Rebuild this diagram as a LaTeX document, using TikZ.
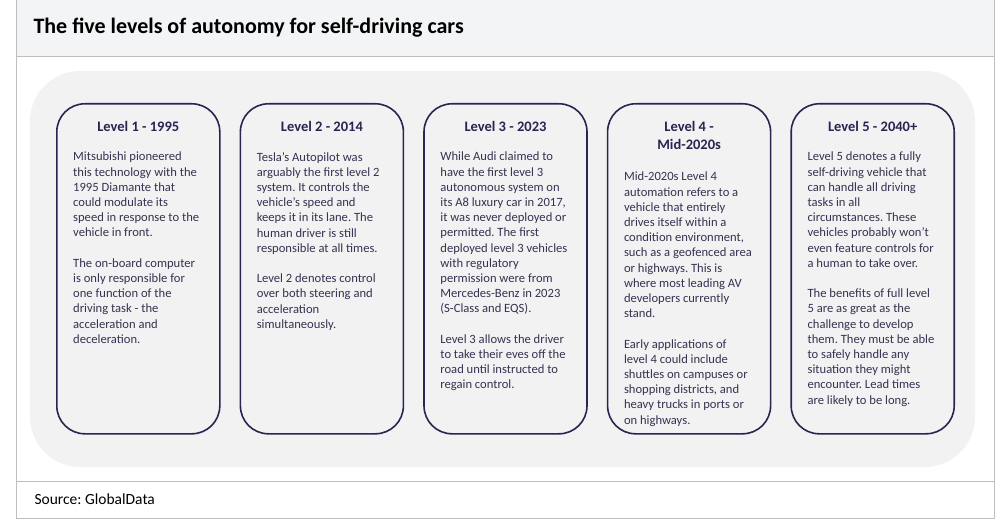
\documentclass[tikz,border=0pt]{standalone}
\usepackage{fontspec}
\setmainfont{Carlito}
\frenchspacing
\usetikzlibrary{positioning}
\definecolor{navy}{HTML}{2B2350}
\definecolor{bodytext}{HTML}{363250}
\definecolor{panelgrey}{HTML}{F2F2F3}
\definecolor{headgrey}{HTML}{F3F4F6}
\definecolor{framegrey}{HTML}{BEBEBE}
\begin{document}
\begin{tikzpicture}[x=1pt,y=1pt,
    card/.style={draw=navy, line width=1.6pt, rounded corners=28pt, fill=panelgrey,
      minimum width=163pt, minimum height=330pt, inner sep=0pt},
    cardhead/.style={font=\bfseries\fontsize{14.5}{18}\selectfont, text=navy,
      align=center, anchor=base, inner sep=0pt},
    cardbody/.style={font=\fontsize{12.6}{15.2}\selectfont, text=bodytext,
      align=left, anchor=north west, inner sep=0pt}]
    \useasboundingbox (0,0) rectangle (1005,523);
    % header and frame
    \fill[headgrey] (16,467) rectangle (994,523);
    \draw[framegrey] (16,523) -- (16,5) -- (994,5) -- (994,523);
    \draw[framegrey] (16,467) -- (994,467);
    \draw[framegrey] (16,42) -- (994,42);
    \node[anchor=west, font=\bfseries\fontsize{22}{26}\selectfont] (title) at (30,495)
      {The five levels of autonomy for self-driving cars};
    \node[anchor=base west, font=\fontsize{15.5}{18}\selectfont] (source) at (31,19)
      {Source: GlobalData};
    % grey panel
    \fill[panelgrey, rounded corners=50pt] (30,56) rectangle (975,452);
    % cards
    \node[card, anchor=north west] (c1) at (56,420) {};
    \foreach \i [remember=\i as \j (initially 1)] in {2,...,5}
      \node[card, right=19pt of c\j] (c\i) {};
    \node[cardhead] (h1) at ([yshift=-29pt]c1.north) {Level 1 - 1995};
    \node[cardhead] (h2) at ([yshift=-29pt]c2.north) {Level 2 - 2014};
    \node[cardhead] (h3) at ([yshift=-29pt]c3.north) {Level 3 - 2023};
    \node[cardhead] (h4) at ([yshift=-47pt]c4.north) {Level 4 -\\Mid-2020s};
    \node[cardhead] (h5) at ([yshift=-29pt]c5.north) {Level 5 - 2040+};
    \node[cardbody] (b1) at ([xshift=17pt,yshift=-49pt]c1.north west)
      {Mitsubishi pioneered\\this technology with the\\1995 Diamante that\\
       could modulate its\\speed in response to the\\vehicle in front.\\[15.2pt]
       The on-board computer\\is only responsible for\\one function of the\\
       driving task - the\\acceleration and\\deceleration.};
    \node[cardbody] (b2) at ([xshift=17pt,yshift=-49pt]c2.north west)
      {Tesla's Autopilot was\\arguably the first level 2\\system. It controls the\\
       vehicle's speed and\\keeps it in its lane. The\\human driver is still\\
       responsible at all times.\\[15.2pt]
       Level 2 denotes control\\over both steering and\\acceleration\\simultaneously.};
    \node[cardbody] (b3) at ([xshift=17pt,yshift=-49pt]c3.north west)
      {While Audi claimed to\\have the first level 3\\autonomous system on\\
       its A8 luxury car in 2017,\\it was never deployed or\\permitted. The first\\
       deployed level 3 vehicles\\with regulatory\\permission were from\\
       Mercedes-Benz in 2023\\(S-Class and EQS).\\[15.2pt]
       Level 3 allows the driver\\to take their eves off the\\road until instructed to\\
       regain control.};
    \node[cardbody] (b4) at ([xshift=17pt,yshift=-69pt]c4.north west)
      {Mid-2020s Level 4\\automation refers to a\\vehicle that entirely\\
       drives itself within a\\condition environment,\\such as a geofenced area\\
       or highways. This is\\where most leading AV\\developers currently\\stand.\\[15.2pt]
       Early applications of\\level 4 could include\\shuttles on campuses or\\
       shopping districts, and\\heavy trucks in ports or\\on highways.};
    \node[cardbody] (b5) at ([xshift=17pt,yshift=-49pt]c5.north west)
      {Level 5 denotes a fully\\self-driving vehicle that\\can handle all driving\\
       tasks in all\\circumstances. These\\vehicles probably won't\\
       even feature controls for\\a human to take over.\\[15.2pt]
       The benefits of full level\\5 are as great as the\\challenge to develop\\
       them. They must be able\\to safely handle any\\situation they might\\
       encounter. Lead times\\are likely to be long.};
  \end{tikzpicture}
\end{document}
